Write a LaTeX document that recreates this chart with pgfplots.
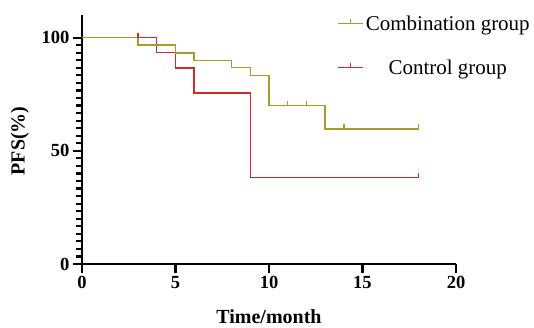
\documentclass[border=0pt]{standalone}
\usepackage{pgfplots}
\pgfplotsset{compat=1.18}
\usepackage{fontspec}
\setmainfont{Liberation Serif}
\definecolor{olivec}{RGB}{168,155,45}
\definecolor{redc}{RGB}{212,40,45}
\begin{document}
\begin{tikzpicture}
\path[use as bounding box] (-82bp,-64bp) rectangle (452bp,264bp);
\begin{axis}[
  at={(0,0)}, anchor=south west,
  scale only axis, width=374bp, height=249bp,
  xmin=0, xmax=20, ymin=0, ymax=110,
  axis x line*=bottom, axis y line*=left,
  axis line style={line width=1.8bp, black},
  xtick={0,5,10,15,20}, ytick={0,50,100},
  minor y tick num=14,
  tick align=outside,
  major tick length=9bp, minor tick length=6bp,
  tick style={black, line width=2.2bp},
  /pgf/number format/assume math mode=true,
  ticklabel style={font=\bfseries\fontsize{18.5bp}{20bp}\selectfont},
  xlabel={Time/month}, ylabel={PFS(\%)},
  label style={font=\bfseries\fontsize{20bp}{22bp}\selectfont},
  xlabel style={at={(axis description cs:0.5,-0.21)}, anchor=center},
  ylabel style={at={(axis description cs:-0.166,0.494)}, anchor=center},
  legend style={at={(axis description cs:1.203,1.007)}, anchor=north east, draw=none, fill=none,
    font=\fontsize{21bp}{23bp}\selectfont, row sep=24bp, inner sep=0pt},
  legend cell align=center,
  legend image code/.code={\draw[#1, line width=1.3bp] (0bp,0bp) -- (25bp,0bp); \draw[#1, line width=1.3bp] (12.5bp,0bp) -- (12.5bp,4.5bp);},
]
\addlegendimage{color=olivec}
\addlegendentry{Combination group}
\addlegendimage{color=redc}
\addlegendentry{Control group}
\addplot[const plot, color=redc, line width=1.4bp, forget plot] coordinates {
 (0,100) (4,93.5) (5,86.5) (6,75.5) (9,38.2) (18,38.2)};
\addplot[const plot, color=olivec, line width=1.4bp, forget plot] coordinates {
 (0,100) (3,96.7) (5,93.3) (6,90) (8,86.7) (9,83.3) (10,70) (13,59.7) (18,59.7)};
\addplot[only marks, mark=|, mark size=2.25bp, mark options={yshift=2.25bp}, color=olivec, line width=1.4bp, forget plot] coordinates {
 (10,70) (11,70) (12,70) (14,59.7) (18,59.7)};
\addplot[only marks, mark=|, mark size=2.25bp, mark options={yshift=2.25bp}, color=redc, line width=1.4bp, forget plot] coordinates {
 (3,100) (4,93.5) (5,86.5) (6,75.5) (9,38.2) (18,38.2)};
\end{axis}
\end{tikzpicture}
\end{document}
